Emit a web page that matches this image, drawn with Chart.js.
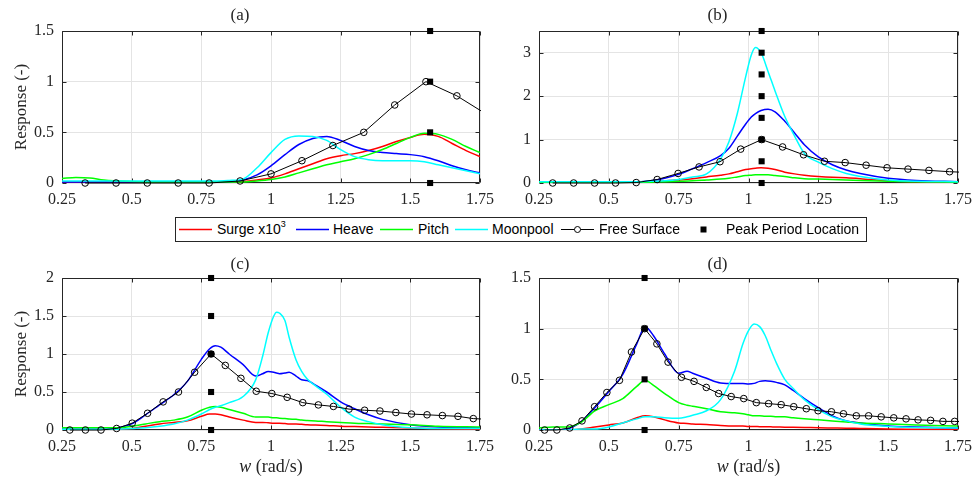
<!DOCTYPE html>
<html>
<head>
<meta charset="utf-8">
<script src="https://cdn.jsdelivr.net/npm/chart.js@4/dist/chart.umd.min.js"></script>
<style>
  html, body { margin: 0; padding: 0; background: #fff; }
  body { width: 975px; height: 481px; position: relative; overflow: hidden; }
  canvas { position: absolute; }
  #legend { position: absolute; left: 175px; top: 217px; width: 690px; height: 23px;
            border: 1px solid #262626; background: #fff;
            font-family: 'Liberation Sans', Arial, sans-serif; font-size: 14px; color: #000; }
  #legend .lg { position: absolute; top: 0; height: 23px; line-height: 23px; white-space: nowrap; }
  #legend .lg sup { font-size: 9px; line-height: 0; position: relative; top: -1px; }
  #legend svg { position: absolute; top: 0; }
</style>
</head>
<body>
<canvas id="pa" style="left:0;top:0" width="500" height="215"></canvas>
<canvas id="pb" style="left:477px;top:0" width="498" height="215"></canvas>
<canvas id="pc" style="left:0;top:245px" width="500" height="236"></canvas>
<canvas id="pd" style="left:477px;top:245px" width="498" height="236"></canvas>

<div id="legend">
  <svg style="left:3px" width="33" height="23"><line x1="0" y1="11.5" x2="33" y2="11.5" stroke="#ff0000" stroke-width="1.5"/></svg>
  <span class="lg" style="left:41px">Surge x10<sup>3</sup></span>
  <svg style="left:120px" width="33" height="23"><line x1="0" y1="11.5" x2="33" y2="11.5" stroke="#0000ff" stroke-width="1.5"/></svg>
  <span class="lg" style="left:157px">Heave</span>
  <svg style="left:204px" width="33" height="23"><line x1="0" y1="11.5" x2="33" y2="11.5" stroke="#00ff00" stroke-width="1.5"/></svg>
  <span class="lg" style="left:242px">Pitch</span>
  <svg style="left:279px" width="33" height="23"><line x1="0" y1="11.5" x2="33" y2="11.5" stroke="#00ffff" stroke-width="1.5"/></svg>
  <span class="lg" style="left:316px">Moonpool</span>
  <svg style="left:385px" width="33" height="23"><line x1="0" y1="11.5" x2="33" y2="11.5" stroke="#000" stroke-width="1"/><circle cx="16.5" cy="11.5" r="3" fill="#fff" stroke="#000" stroke-width="1"/></svg>
  <span class="lg" style="left:423px">Free Surface</span>
  <svg style="left:523px" width="9" height="23"><rect x="1.5" y="8.5" width="6" height="6" fill="#000"/></svg>
  <span class="lg" style="left:550px">Peak Period Location</span>
</div>

<script>
// ---- axis ticks ----
const X_TICKS = [0.25, 0.5, 0.75, 1, 1.25, 1.5, 1.75];
const X_TICK_LABELS = ['0.25', '0.5', '0.75', '1', '1.25', '1.5', '1.75'];
const Y_TICKS_A = [0, 0.5, 1, 1.5];
const Y_TICKS_B = [0, 1, 2, 3];
const Y_TICKS_C = [0, 0.5, 1, 1.5, 2];
const Y_TICKS_D = [0, 0.5, 1, 1.5];

// ---- panel (a) ----
const W_A = [0.25,0.3,0.35,0.4,0.5,0.6,0.7,0.8,0.85,0.9,0.95,1.0,1.05,1.1,1.15,1.2,1.25,1.3,1.35,1.4,1.45,1.5,1.55,1.6,1.65,1.7,1.75];
const SURGE_A = [0.01,0.01,0.01,0.01,0.01,0.01,0.01,0.01,0.01,0.015,0.03,0.05,0.09,0.14,0.19,0.24,0.27,0.29,0.32,0.36,0.41,0.45,0.48,0.46,0.39,0.32,0.26];
const HEAVE_A = [0.01,0.01,0.01,0.01,0.01,0.01,0.01,0.01,0.01,0.03,0.08,0.17,0.28,0.38,0.44,0.46,0.42,0.36,0.32,0.30,0.29,0.28,0.26,0.22,0.17,0.13,0.10];
const PITCH_A = [0.045,0.055,0.05,0.03,0.015,0.01,0.01,0.01,0.01,0.01,0.02,0.035,0.06,0.10,0.14,0.18,0.21,0.24,0.28,0.33,0.39,0.45,0.49,0.48,0.43,0.36,0.30];
const MOON_A = [0.02,0.02,0.02,0.02,0.02,0.02,0.02,0.02,0.025,0.04,0.15,0.30,0.43,0.465,0.46,0.42,0.33,0.26,0.23,0.22,0.22,0.22,0.21,0.18,0.15,0.12,0.09];
const FS_W_A = [0.333,0.444,0.556,0.667,0.778,0.889,1.0,1.111,1.222,1.333,1.444,1.556,1.667,1.778];
const FS_A = [0,0,0,0,0,0.02,0.09,0.22,0.37,0.5,0.77,1.0,0.86,0.67];
const PEAK_W_A = 1.571;
const PEAK_A = [0, 0.5, 1, 1.5];

// ---- panel (b) ----
const W_B = [0.25,0.3,0.4,0.5,0.6,0.65,0.7,0.75,0.8,0.85,0.9,0.93,0.96,0.99,1.01,1.025,1.045,1.07,1.095,1.13,1.165,1.2,1.25,1.3,1.35,1.4,1.5,1.6,1.75];
const SURGE_B = [0.02,0.02,0.02,0.02,0.02,0.03,0.05,0.07,0.1,0.14,0.18,0.21,0.26,0.31,0.33,0.34,0.35,0.34,0.31,0.25,0.21,0.18,0.15,0.13,0.12,0.1,0.05,0.03,0.02];
const HEAVE_B = [0.01,0.01,0.01,0.01,0.02,0.05,0.11,0.2,0.33,0.47,0.63,0.8,1.08,1.36,1.52,1.6,1.67,1.70,1.64,1.42,1.15,0.88,0.6,0.42,0.3,0.22,0.11,0.06,0.03];
const PITCH_B = [0.02,0.02,0.02,0.02,0.02,0.02,0.03,0.04,0.05,0.07,0.09,0.11,0.14,0.17,0.18,0.19,0.19,0.19,0.17,0.15,0.12,0.1,0.09,0.08,0.07,0.06,0.04,0.03,0.02];
const MOON_B = [0.03,0.03,0.03,0.03,0.03,0.04,0.05,0.08,0.14,0.21,0.55,0.95,1.6,2.45,2.95,3.12,3.0,2.57,2.12,1.53,1.08,0.68,0.48,0.33,0.22,0.15,0.07,0.04,0.03];
const FS_W_B = [0.299,0.374,0.449,0.524,0.598,0.673,0.748,0.823,0.898,0.972,1.047,1.122,1.197,1.272,1.346,1.421,1.496,1.571,1.646,1.720,1.795];
const FS_B = [0,0,0,0,0.01,0.08,0.22,0.37,0.49,0.78,1.0,0.83,0.65,0.5,0.47,0.41,0.35,0.32,0.29,0.26,0.24];
const PEAK_W_B = 1.047;
const PEAK_B = [0, 0.5, 1, 1.5, 2, 2.5, 3, 3.5];

// ---- panel (c) ----
const W_C = [0.25,0.3,0.4,0.45,0.5,0.55,0.6,0.65,0.7,0.75,0.78,0.8,0.82,0.85,0.9,0.945,0.97,0.99,1.01,1.02,1.03,1.05,1.065,1.09,1.11,1.13,1.16,1.2,1.25,1.3,1.35,1.4,1.5,1.6,1.75];
const SURGE_C = [0.01,0.01,0.01,0.01,0.02,0.05,0.08,0.1,0.12,0.18,0.21,0.21,0.2,0.17,0.13,0.1,0.1,0.095,0.09,0.09,0.09,0.085,0.08,0.08,0.075,0.07,0.065,0.06,0.05,0.045,0.04,0.035,0.025,0.015,0.01];
const HEAVE_C = [0.01,0.01,0.01,0.03,0.08,0.2,0.33,0.46,0.64,0.93,1.07,1.11,1.09,1.0,0.86,0.71,0.74,0.77,0.76,0.75,0.74,0.75,0.76,0.71,0.66,0.65,0.59,0.5,0.37,0.28,0.2,0.14,0.07,0.04,0.03];
const PITCH_C = [0.03,0.03,0.03,0.03,0.05,0.08,0.11,0.13,0.17,0.26,0.3,0.31,0.3,0.27,0.22,0.17,0.17,0.17,0.16,0.16,0.155,0.15,0.145,0.14,0.13,0.125,0.12,0.11,0.1,0.09,0.085,0.08,0.07,0.05,0.04];
const MOON_C = [0.01,0.01,0.01,0.01,0.02,0.03,0.05,0.08,0.13,0.21,0.27,0.3,0.32,0.36,0.44,0.66,0.97,1.28,1.5,1.55,1.54,1.44,1.22,0.92,0.77,0.67,0.58,0.47,0.3,0.17,0.11,0.07,0.03,0.02,0.02];
const FS_W_C = [0.278,0.334,0.39,0.446,0.502,0.557,0.613,0.668,0.726,0.785,0.836,0.892,0.947,1.003,1.058,1.114,1.17,1.224,1.28,1.336,1.391,1.448,1.504,1.56,1.615,1.671,1.726,1.782];
const FS_C = [0,0,0,0.02,0.09,0.22,0.37,0.5,0.76,1.0,0.85,0.68,0.51,0.48,0.43,0.36,0.33,0.31,0.275,0.26,0.25,0.23,0.21,0.2,0.19,0.18,0.15,0.14];
const PEAK_W_C = 0.785;
const PEAK_C = [0, 0.5, 1, 1.5, 2];

// ---- panel (d) ----
const W_D = [0.25,0.3,0.35,0.4,0.45,0.5,0.55,0.6,0.63,0.66,0.7,0.75,0.78,0.8,0.85,0.9,0.95,0.98,1.0,1.02,1.04,1.06,1.08,1.1,1.13,1.16,1.2,1.25,1.3,1.35,1.4,1.5,1.6,1.75];
const SURGE_D = [0,0,0,0.01,0.03,0.05,0.07,0.12,0.14,0.13,0.1,0.07,0.065,0.06,0.055,0.045,0.04,0.04,0.035,0.035,0.033,0.032,0.031,0.03,0.028,0.027,0.025,0.022,0.02,0.018,0.015,0.01,0.008,0.005];
const HEAVE_D = [0,0,0.01,0.08,0.22,0.38,0.55,0.85,1.02,0.93,0.75,0.56,0.58,0.56,0.51,0.465,0.46,0.46,0.455,0.46,0.48,0.485,0.48,0.47,0.445,0.39,0.31,0.22,0.14,0.09,0.07,0.04,0.03,0.02];
const PITCH_D = [0.02,0.03,0.03,0.075,0.19,0.25,0.31,0.43,0.49,0.44,0.36,0.27,0.245,0.235,0.21,0.18,0.17,0.16,0.15,0.14,0.14,0.135,0.135,0.13,0.13,0.12,0.11,0.1,0.09,0.08,0.07,0.06,0.05,0.04];
const MOON_D = [0,0,0,0.01,0.01,0.03,0.07,0.11,0.13,0.13,0.12,0.115,0.13,0.145,0.19,0.3,0.58,0.85,0.98,1.045,1.02,0.93,0.79,0.66,0.5,0.41,0.3,0.2,0.13,0.09,0.06,0.035,0.025,0.02];
const FS_W_D = [0.27,0.314,0.36,0.404,0.449,0.493,0.538,0.581,0.628,0.672,0.712,0.76,0.805,0.849,0.893,0.938,0.983,1.028,1.072,1.117,1.162,1.207,1.249,1.297,1.34,1.386,1.43,1.475,1.52,1.564,1.607,1.652,1.696,1.738,1.783];
const FS_D = [0,0,0.02,0.09,0.23,0.37,0.49,0.77,1.0,0.85,0.67,0.52,0.48,0.42,0.36,0.33,0.31,0.27,0.26,0.25,0.23,0.21,0.19,0.18,0.16,0.14,0.14,0.13,0.12,0.11,0.1,0.095,0.085,0.085,0.08];
const PEAK_W_D = 0.628;
const PEAK_D = [0, 0.5, 1, 1.5];

const SERIF = "'Liberation Serif', 'DejaVu Serif', serif";
const AXIS_COLOR = '#262626';
const GRID_COLOR = '#e4e4e4';

// Axes box with inward tick marks on all four sides
const framePlugin = {
  id: 'frame',
  beforeDatasetsDraw(chart) {
    const { ctx, chartArea: a, scales: { x, y } } = chart;
    const L = Math.round(a.left) + 0.5, R = Math.round(a.right) - 0.5;
    const T = Math.round(a.top) + 0.5, B = Math.round(a.bottom) - 0.5;
    ctx.save();
    ctx.strokeStyle = AXIS_COLOR;
    ctx.lineWidth = 1;
    ctx.beginPath();
    ctx.rect(L, T, R - L, B - T);
    x.ticks.forEach(t => {
      const p = Math.round(x.getPixelForValue(t.value)) + 0.5;
      ctx.moveTo(p, B); ctx.lineTo(p, B - 4);
      ctx.moveTo(p, T); ctx.lineTo(p, T + 4);
    });
    y.ticks.forEach(t => {
      const p = Math.round(y.getPixelForValue(t.value)) + 0.5;
      ctx.moveTo(L, p); ctx.lineTo(L + 4, p);
      ctx.moveTo(R, p); ctx.lineTo(R - 4, p);
    });
    ctx.stroke();
    ctx.restore();
  }
};

// x-axis label with an italic symbol
const xLabelPlugin = {
  id: 'xlabel',
  afterDraw(chart, args, opts) {
    if (!opts.show) return;
    const { ctx, chartArea: a } = chart;
    const f1 = 'italic 18px ' + SERIF, f2 = '18px ' + SERIF;
    ctx.save();
    ctx.fillStyle = AXIS_COLOR;
    ctx.textBaseline = 'middle';
    ctx.textAlign = 'left';
    ctx.font = f1; const w1 = ctx.measureText('w').width;
    ctx.font = f2; const w2 = ctx.measureText(' (rad/s)').width;
    const x0 = (a.left + a.right) / 2 - (w1 + w2) / 2;
    const y0 = a.bottom + opts.offset;
    ctx.font = f1; ctx.fillText('w', x0, y0);
    ctx.font = f2; ctx.fillText(' (rad/s)', x0 + w1, y0);
    ctx.restore();
  }
};

function curve(label, w, vals, color, order) {
  return {
    label, order,
    data: w.map((v, i) => ({ x: v, y: vals[i] })),
    showLine: true, borderColor: color, backgroundColor: color,
    borderWidth: 1.5, pointRadius: 0, cubicInterpolationMode: 'monotone'
  };
}

function panel(id, p) {
  const datasets = [
    {
      label: 'Peak Period Location', order: 0,
      data: p.peak.map(v => ({ x: p.peakW, y: v })),
      showLine: false, pointStyle: 'rect', pointRadius: 4.3,
      backgroundColor: '#000', borderColor: '#000', borderWidth: 0, clip: false
    },
    {
      label: 'Free Surface', order: 1,
      data: p.fsW.map((v, i) => ({ x: v, y: p.fs[i] })),
      showLine: true, borderColor: '#000', borderWidth: 1, tension: 0,
      pointStyle: 'circle', pointRadius: 3.3, pointBorderWidth: 1,
      pointBackgroundColor: 'rgba(0,0,0,0)', pointBorderColor: '#000',
      clip: { left: false, top: false, bottom: false, right: 1 }
    },
    curve('Moonpool', p.w, p.moon, '#00ffff', 2),
    curve('Pitch', p.w, p.pitch, '#00ff00', 3),
    curve('Heave', p.w, p.heave, '#0000ff', 4),
    curve('Surge x10^3', p.w, p.surge, '#ff0000', 5)
  ];

  new Chart(document.getElementById(id), {
    type: 'scatter',
    data: { datasets },
    plugins: [framePlugin, xLabelPlugin],
    options: {
      responsive: false, animation: false, devicePixelRatio: 1,
      layout: { padding: { left: 0, right: p.padRight, top: 0, bottom: 0 } },
      plugins: {
        legend: { display: false },
        tooltip: { enabled: false },
        title: {
          display: true, text: p.title, color: AXIS_COLOR,
          font: { family: SERIF, size: 17, weight: 'normal', lineHeight: 1.2 },
          padding: p.titlePad
        },
        xlabel: { show: p.xlabel, offset: 37 }
      },
      scales: {
        x: {
          type: 'linear', min: 0.25, max: 1.75,
          afterBuildTicks: s => { s.ticks = X_TICKS.map(v => ({ value: v })); },
          afterFit: s => { s.height = p.xh; s.paddingLeft = 0; s.paddingRight = 0; },
          grid: { color: GRID_COLOR, lineWidth: 1, drawTicks: false },
          border: { display: false },
          ticks: {
            padding: 7, color: AXIS_COLOR, maxRotation: 0, autoSkip: false,
            font: { family: SERIF, size: 16 },
            callback: v => X_TICK_LABELS[X_TICKS.indexOf(v)]
          }
        },
        y: {
          type: 'linear', min: 0, max: p.ymax,
          afterBuildTicks: s => { s.ticks = p.yTicks.map(v => ({ value: v })); },
          afterFit: s => { s.width = 62; s.paddingTop = 0; s.paddingBottom = 0; },
          grid: { color: GRID_COLOR, lineWidth: 1, drawTicks: false },
          border: { display: false },
          ticks: {
            padding: 8, color: AXIS_COLOR,
            font: { family: SERIF, size: 16 },
            callback: v => String(v)
          },
          title: {
            display: p.ylabel, text: 'Response (-)', color: AXIS_COLOR,
            font: { family: SERIF, size: 17, lineHeight: 1.2 },
            padding: { top: 11, bottom: 0 }
          }
        }
      }
    }
  });
}

panel('pa', { title: '(a)', w: W_A, surge: SURGE_A, heave: HEAVE_A, pitch: PITCH_A, moon: MOON_A,
  fsW: FS_W_A, fs: FS_A, peakW: PEAK_W_A, peak: PEAK_A, yTicks: Y_TICKS_A, ymax: 1.5,
  ylabel: true, xlabel: false, xh: 32, padRight: 20, titlePad: { top: 5, bottom: 5.6 } });
panel('pb', { title: '(b)', w: W_B, surge: SURGE_B, heave: HEAVE_B, pitch: PITCH_B, moon: MOON_B,
  fsW: FS_W_B, fs: FS_B, peakW: PEAK_W_B, peak: PEAK_B, yTicks: Y_TICKS_B, ymax: 3.5,
  ylabel: false, xlabel: false, xh: 32, padRight: 17, titlePad: { top: 5, bottom: 5.6 } });
panel('pc', { title: '(c)', w: W_C, surge: SURGE_C, heave: HEAVE_C, pitch: PITCH_C, moon: MOON_C,
  fsW: FS_W_C, fs: FS_C, peakW: PEAK_W_C, peak: PEAK_C, yTicks: Y_TICKS_C, ymax: 2,
  ylabel: true, xlabel: true, xh: 51, padRight: 20, titlePad: { top: 9.8, bottom: 2.8 } });
panel('pd', { title: '(d)', w: W_D, surge: SURGE_D, heave: HEAVE_D, pitch: PITCH_D, moon: MOON_D,
  fsW: FS_W_D, fs: FS_D, peakW: PEAK_W_D, peak: PEAK_D, yTicks: Y_TICKS_D, ymax: 1.5,
  ylabel: false, xlabel: true, xh: 51, padRight: 17, titlePad: { top: 9.8, bottom: 2.8 } });
</script>
</body>
</html>
